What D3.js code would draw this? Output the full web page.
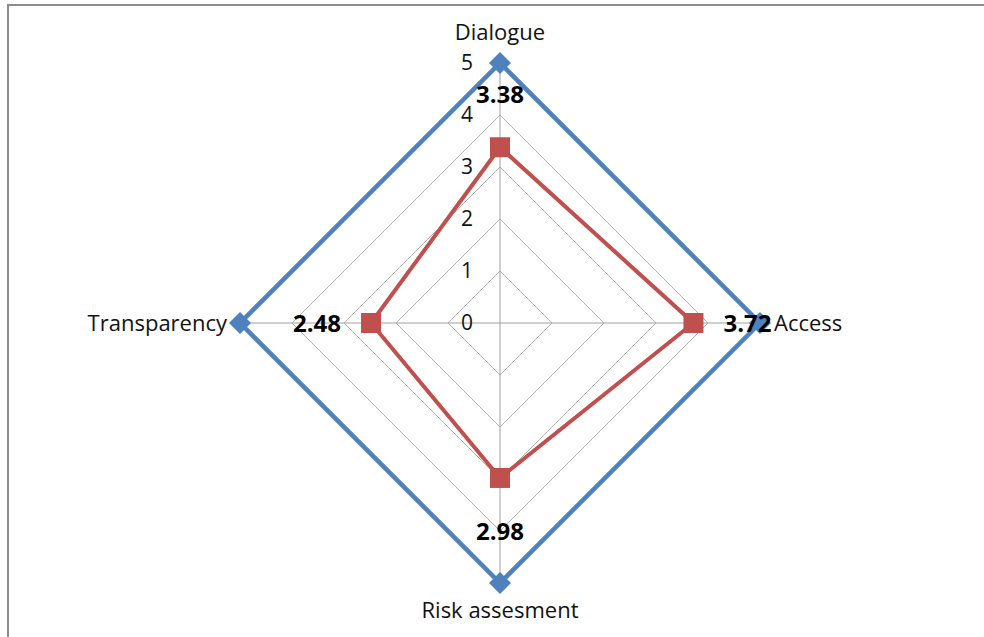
<!DOCTYPE html>
<html>
<head>
<meta charset="utf-8">
<script src="https://cdn.jsdelivr.net/npm/d3@7"></script>
<style>
  html, body { margin: 0; padding: 0; background: #fff; }
  svg { display: block; }
</style>
</head>
<body>
<svg id="chart" width="984" height="637"></svg>
<script>
// Radar axes, clockwise from the top
const categories = ["Dialogue", "Access", "Risk assesment", "Transparency"];
// Maximum score on every dimension
const maxValues = [5, 5, 5, 5];
// Observed scores
const scoreValues = [3.38, 3.72, 2.98, 2.48];
// Radial tick labels
const tickValues = [0, 1, 2, 3, 4, 5];

const svg = d3.select("#chart");
const width = 984, height = 637;
const cx = 500, cy = 323;
const FONT = "'Open Sans', 'Noto Sans', sans-serif";

// Frame around the chart area
svg.append("path")
  .attr("d", `M8,${height} L8,5 L${width},5`)
  .attr("fill", "none")
  .attr("stroke", "#8c8c8c")
  .attr("stroke-width", 2);

const r = d3.scaleLinear().domain([0, 5]).range([0, 260]);
const angle = d3.scalePoint().domain(categories).range([0, 2 * Math.PI * 3 / 4]);

function pt(cat, v) {
  const a = angle(cat) - Math.PI / 2;
  return [cx + r(v) * Math.cos(a), cy + r(v) * Math.sin(a)];
}

const g = svg.append("g");

// Gridline rings
g.selectAll("path.ring")
  .data(tickValues.filter(t => t > 0))
  .join("path")
  .attr("class", "ring")
  .attr("d", t => d3.line()(categories.map(c => pt(c, t))) + "Z")
  .attr("fill", "none")
  .attr("stroke", "#b3b3b3")
  .attr("stroke-width", 1);

// Spokes
g.selectAll("line.spoke")
  .data(categories)
  .join("line")
  .attr("class", "spoke")
  .attr("x1", cx).attr("y1", cy)
  .attr("x2", c => pt(c, 5)[0])
  .attr("y2", c => pt(c, 5)[1])
  .attr("stroke", "#a0a0a0")
  .attr("stroke-width", 1);

// Radial tick labels along the top spoke
g.selectAll("text.tick")
  .data(tickValues)
  .join("text")
  .attr("class", "tick")
  .attr("x", cx - 27)
  .attr("y", t => cy - r(t))
  .attr("dy", "0.35em")
  .attr("text-anchor", "end")
  .attr("font-family", FONT)
  .attr("font-size", 21)
  .attr("fill", "#111")
  .text(t => t);

// Series polygons
function series(values, color, w) {
  g.append("path")
    .attr("d", d3.line()(categories.map((c, i) => pt(c, values[i]))) + "Z")
    .attr("fill", "none")
    .attr("stroke", color)
    .attr("stroke-width", w)
    .attr("stroke-linejoin", "miter");
}
series(maxValues, "#4f81bd", 4.5);
series(scoreValues, "#c0504d", 4);

// Diamond markers for the maximum series
g.selectAll("path.diamond")
  .data(categories.map((c, i) => pt(c, maxValues[i])))
  .join("path")
  .attr("class", "diamond")
  .attr("transform", d => `translate(${d[0]},${d[1]})`)
  .attr("d", "M0,-11L11,0L0,11L-11,0Z")
  .attr("fill", "#4f81bd");

// Square markers for the scores
g.selectAll("rect.square")
  .data(categories.map((c, i) => pt(c, scoreValues[i])))
  .join("rect")
  .attr("class", "square")
  .attr("x", d => d[0] - 10)
  .attr("y", d => d[1] - 10)
  .attr("width", 20)
  .attr("height", 20)
  .attr("fill", "#c0504d");

// Value labels, placed outward from each score point
g.selectAll("text.value")
  .data(categories.map((c, i) => ({ c, v: scoreValues[i] })))
  .join("text")
  .attr("class", "value")
  .attr("x", d => { const a = angle(d.c) - Math.PI / 2; return pt(d.c, d.v)[0] + 54 * Math.cos(a); })
  .attr("y", d => { const a = angle(d.c) - Math.PI / 2; return pt(d.c, d.v)[1] + 53 * Math.sin(a); })
  .attr("dy", "0.36em")
  .attr("text-anchor", "middle")
  .attr("font-family", FONT)
  .attr("font-weight", "bold")
  .attr("font-size", 24)
  .attr("fill", "#000")
  .text(d => d.v.toFixed(2));

// Category labels
const catPos = {
  "Dialogue": { dx: 0, dy: -31, anchor: "middle" },
  "Access": { dx: 14, dy: 0, anchor: "start" },
  "Risk assesment": { dx: 0, dy: 27, anchor: "middle" },
  "Transparency": { dx: -13, dy: 0, anchor: "end" }
};
g.selectAll("text.cat")
  .data(categories)
  .join("text")
  .attr("class", "cat")
  .attr("x", c => pt(c, 5)[0] + catPos[c].dx)
  .attr("y", c => pt(c, 5)[1] + catPos[c].dy)
  .attr("dy", "0.35em")
  .attr("text-anchor", c => catPos[c].anchor)
  .attr("font-family", FONT)
  .attr("font-size", 22)
  .attr("fill", "#111")
  .text(c => c);
</script>
</body>
</html>
